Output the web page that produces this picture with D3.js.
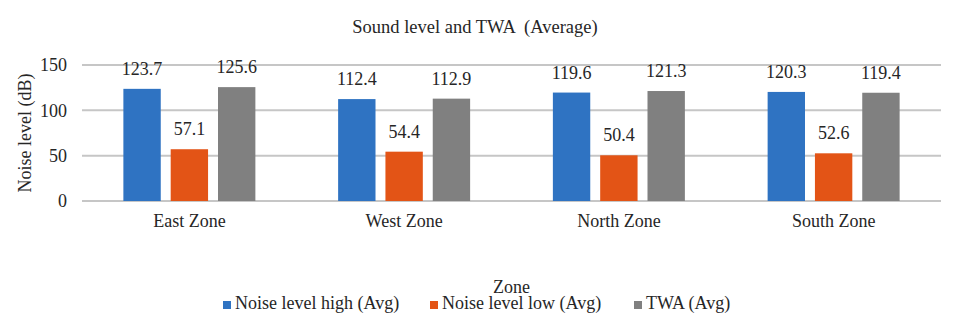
<!DOCTYPE html>
<html>
<head>
<meta charset="utf-8">
<script src="https://cdn.jsdelivr.net/npm/d3@7"></script>
<style>
  body { margin: 0; background: #fff; }
</style>
</head>
<body>
<div id="chart"></div>
<script>
var zones = ["East Zone", "West Zone", "North Zone", "South Zone"];
var seriesNames = ["Noise level high (Avg)", "Noise level low (Avg)", "TWA (Avg)"];
var highAvg = [123.7, 112.4, 119.6, 120.3];
var lowAvg = [57.1, 54.4, 50.4, 52.6];
var twaAvg = [125.6, 112.9, 121.3, 119.4];
var yTicks = [0, 50, 100, 150];
var colors = ["#2f73c2", "#e35416", "#808080"];

var FONT = "'Liberation Serif', 'Times New Roman', serif";
var width = 956, height = 333;
var plot = { left: 82, right: 941, top: 65, bottom: 201 };
var groupW = 132;

var svg = d3.select("#chart").append("svg")
    .attr("width", width)
    .attr("height", height);

var xScale = d3.scaleBand()
    .domain(zones)
    .range([plot.left, plot.right]);
var yScale = d3.scaleLinear()
    .domain([0, 150])
    .range([plot.bottom, plot.top]);
var inner = d3.scaleBand()
    .domain(d3.range(seriesNames.length))
    .range([0, groupW])
    .paddingInner(0.21);

// gridlines
svg.append("g")
    .selectAll("line")
    .data(yTicks)
    .enter()
    .append("line")
    .attr("x1", plot.left)
    .attr("x2", plot.right)
    .attr("y1", function (d) { return yScale(d); })
    .attr("y2", function (d) { return yScale(d); })
    .attr("stroke", "#c6c6c6")
    .attr("stroke-width", 2);

// y axis labels
var yAxis = svg.append("g")
    .attr("transform", "translate(" + plot.left + ",0)")
    .call(d3.axisLeft(yScale).tickValues(yTicks).tickSize(0).tickPadding(15));
yAxis.attr("font-family", null);
yAxis.select(".domain").remove();
yAxis.selectAll("text")
    .style("font-size", "18px")
    .style("font-family", FONT)
    .attr("fill", "#262626");

// x axis labels
var xAxis = svg.append("g")
    .attr("transform", "translate(0," + plot.bottom + ")")
    .call(d3.axisBottom(xScale).tickSize(0).tickPadding(13));
xAxis.attr("font-family", null);
xAxis.select(".domain").remove();
xAxis.selectAll("text")
    .style("font-size", "18px")
    .style("font-family", FONT)
    .attr("fill", "#262626");

// bars
var series = [highAvg, lowAvg, twaAvg];
var rows = [];
zones.forEach(function (z, i) {
    series.forEach(function (s, j) {
        rows.push({ zone: z, idx: j, val: s[i] });
    });
});

var groupOffset = (xScale.bandwidth() - groupW) / 2;

svg.selectAll("rect.bar")
    .data(rows)
    .enter()
    .append("rect")
    .attr("class", "bar")
    .attr("x", function (d) { return xScale(d.zone) + groupOffset + inner(d.idx); })
    .attr("y", function (d) { return yScale(d.val); })
    .attr("width", inner.bandwidth())
    .attr("height", function (d) { return yScale(0) - yScale(d.val); })
    .attr("fill", function (d) { return colors[d.idx]; });

// value labels
svg.selectAll("text.lbl")
    .data(rows)
    .enter()
    .append("text")
    .attr("class", "lbl")
    .attr("x", function (d) { return xScale(d.zone) + groupOffset + inner(d.idx) + inner.bandwidth() / 2; })
    .attr("y", function (d) { return yScale(d.val) - 14; })
    .attr("text-anchor", "middle")
    .style("font-family", FONT)
    .style("font-size", "18px")
    .attr("fill", "#262626")
    .text(function (d) { return d.val.toFixed(1); });

// title
svg.append("text")
    .attr("x", 475)
    .attr("y", 33)
    .attr("text-anchor", "middle")
    .style("font-family", FONT)
    .style("font-size", "18.5px")
    .style("white-space", "pre")
    .attr("fill", "#262626")
    .text("Sound level and TWA  (Average)");

// y title
svg.append("text")
    .attr("transform", "translate(31," + ((plot.top + plot.bottom) / 2) + ") rotate(-90)")
    .attr("text-anchor", "middle")
    .style("font-family", FONT)
    .style("font-size", "18px")
    .attr("fill", "#262626")
    .text("Noise level (dB)");

// x title
svg.append("text")
    .attr("x", (plot.left + plot.right) / 2)
    .attr("y", 293)
    .attr("text-anchor", "middle")
    .style("font-family", FONT)
    .style("font-size", "18px")
    .attr("fill", "#262626")
    .text("Zone");

// legend
var legendX = [223, 430, 634];
var legend = svg.selectAll("g.leg")
    .data(seriesNames)
    .enter()
    .append("g")
    .attr("class", "leg")
    .attr("transform", function (d, i) { return "translate(" + legendX[i] + ",305)"; });
legend.append("rect")
    .attr("x", 0)
    .attr("y", -4)
    .attr("width", 8)
    .attr("height", 8)
    .attr("fill", function (d, i) { return colors[i]; });
legend.append("text")
    .attr("x", 12)
    .attr("y", 4)
    .style("font-family", FONT)
    .style("font-size", "18px")
    .attr("fill", "#262626")
    .text(function (d) { return d; });
</script>
</body>
</html>
